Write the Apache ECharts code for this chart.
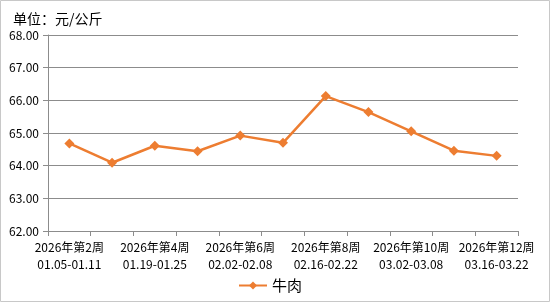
<!DOCTYPE html>
<html>
<head>
<meta charset="utf-8">
<script src="https://cdn.jsdelivr.net/npm/echarts@6/dist/echarts.min.js"></script>
<style>
  html, body { margin: 0; padding: 0; background: #fff; }
  #chart { width: 550px; height: 302px; }
</style>
</head>
<body>
<div id="chart"></div>
<script>
// 周次与日期
const weeks = ['2026年第2周', '2026年第3周', '2026年第4周', '2026年第5周', '2026年第6周', '2026年第7周',
  '2026年第8周', '2026年第9周', '2026年第10周', '2026年第11周', '2026年第12周'];
const dateRanges = ['01.05-01.11', '01.12-01.18', '01.19-01.25', '01.26-02.01', '02.02-02.08', '02.09-02.15',
  '02.16-02.22', '02.23-03.01', '03.02-03.08', '03.09-03.15', '03.16-03.22'];
// 牛肉价格 元/公斤
const beefPrices = [64.68, 64.09, 64.61, 64.44, 64.92, 64.70, 66.13, 65.64, 65.05, 64.46, 64.30];

const categories = weeks.map((w, i) => w + '\n' + dateRanges[i]);

const font = '"Noto Sans CJK SC", "DejaVu Sans", sans-serif';
const gridColor = '#8c8c8c';

const myChart = echarts.init(document.getElementById('chart'));

myChart.setOption({
  animation: false,
  textStyle: { fontFamily: font },
  title: {
    text: '单位：元/公斤',
    left: 8,
    top: 7,
    textStyle: { fontSize: 14, fontWeight: 'normal', color: '#000', fontFamily: font }
  },
  graphic: [{
    type: 'rect',
    shape: { x: 0.5, y: 0.5, width: 549, height: 301 },
    style: { fill: 'none', stroke: '#c8c8c8', lineWidth: 1 },
    silent: true
  }],
  legend: {
    bottom: 4,
    left: 233,
    itemWidth: 28,
    itemHeight: 10,
    itemGap: 4,
    textStyle: { fontSize: 15, color: '#000', fontFamily: font },
    data: ['牛肉']
  },
  grid: { left: 48, right: 32, top: 35, bottom: 71, containLabel: false, outerBoundsMode: 'none' },
  xAxis: {
    type: 'category',
    data: categories,
    boundaryGap: true,
    axisLine: { lineStyle: { color: gridColor, width: 1 } },
    axisTick: { show: true, interval: 0, length: 5, lineStyle: { color: gridColor } },
    axisLabel: {
      interval: 1,
      color: '#000',
      fontSize: 12,
      lineHeight: 17,
      margin: 8,
      fontFamily: font
    }
  },
  yAxis: {
    type: 'value',
    min: 62,
    max: 68,
    interval: 1,
    axisLine: { show: true, lineStyle: { color: gridColor, width: 1 } },
    axisTick: { show: true, length: 5, lineStyle: { color: gridColor } },
    axisLabel: {
      color: '#000',
      fontSize: 12,
      margin: 9,
      fontFamily: font,
      formatter: v => v.toFixed(2)
    },
    splitLine: { lineStyle: { color: gridColor, width: 1 } }
  },
  series: [{
    name: '牛肉',
    type: 'line',
    data: beefPrices,
    symbol: 'diamond',
    symbolSize: 10,
    lineStyle: { color: '#ED7D31', width: 2.5 },
    itemStyle: { color: '#ED7D31' }
  }]
});
</script>
</body>
</html>
